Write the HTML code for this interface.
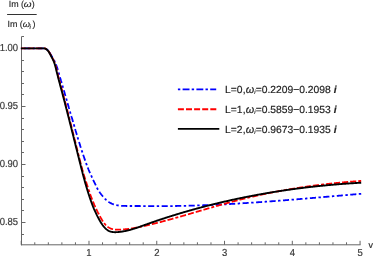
<!DOCTYPE html>
<html><head><meta charset="utf-8">
<style>
html,body{margin:0;padding:0;background:#fff;}
body{width:374px;height:256px;overflow:hidden;font-family:"Liberation Sans",sans-serif;}
svg{display:block;}
text{font-family:"Liberation Sans",sans-serif;text-rendering:geometricPrecision;}
svg{will-change:transform;}
.tl text{font-size:10.2px;fill:#383838;letter-spacing:-0.05px;stroke:#383838;stroke-width:0.2px;}
.lg text{font-size:10.3px;fill:#222;letter-spacing:0px;stroke:#222;stroke-width:0.18px;}
.lg .tt text{font-size:8.9px;stroke:#222;stroke-width:0.12px;}
.lg .tt text.sub{font-size:6.3px;}
.ax line{stroke:#666;stroke-width:1;}
</style></head><body>
<svg width="374" height="256" viewBox="0 0 374 256">
<rect width="374" height="256" fill="#fff"/>
<g class="ax">
<line x1="21.5" y1="36.6" x2="21.5" y2="245.3"/>
<line x1="21" y1="244.8" x2="360.55" y2="244.8"/>
<line x1="21.5" y1="234.50" x2="24.0" y2="234.50"/><line x1="21.5" y1="222.50" x2="25.5" y2="222.50"/><line x1="21.5" y1="210.50" x2="24.0" y2="210.50"/><line x1="21.5" y1="199.50" x2="24.0" y2="199.50"/><line x1="21.5" y1="187.50" x2="24.0" y2="187.50"/><line x1="21.5" y1="176.50" x2="24.0" y2="176.50"/><line x1="21.5" y1="164.50" x2="25.5" y2="164.50"/><line x1="21.5" y1="152.50" x2="24.0" y2="152.50"/><line x1="21.5" y1="141.50" x2="24.0" y2="141.50"/><line x1="21.5" y1="129.50" x2="24.0" y2="129.50"/><line x1="21.5" y1="118.50" x2="24.0" y2="118.50"/><line x1="21.5" y1="106.50" x2="25.5" y2="106.50"/><line x1="21.5" y1="94.50" x2="24.0" y2="94.50"/><line x1="21.5" y1="83.50" x2="24.0" y2="83.50"/><line x1="21.5" y1="71.50" x2="24.0" y2="71.50"/><line x1="21.5" y1="60.50" x2="24.0" y2="60.50"/><line x1="21.5" y1="48.50" x2="25.5" y2="48.50"/><line x1="21.5" y1="36.50" x2="24.0" y2="36.50"/><line x1="21.22" y1="244.8" x2="21.22" y2="240.8"/><line x1="34.77" y1="244.8" x2="34.77" y2="242.3"/><line x1="48.33" y1="244.8" x2="48.33" y2="242.3"/><line x1="61.88" y1="244.8" x2="61.88" y2="242.3"/><line x1="75.44" y1="244.8" x2="75.44" y2="242.3"/><line x1="88.99" y1="244.8" x2="88.99" y2="240.8"/><line x1="102.54" y1="244.8" x2="102.54" y2="242.3"/><line x1="116.10" y1="244.8" x2="116.10" y2="242.3"/><line x1="129.65" y1="244.8" x2="129.65" y2="242.3"/><line x1="143.21" y1="244.8" x2="143.21" y2="242.3"/><line x1="156.76" y1="244.8" x2="156.76" y2="240.8"/><line x1="170.31" y1="244.8" x2="170.31" y2="242.3"/><line x1="183.87" y1="244.8" x2="183.87" y2="242.3"/><line x1="197.42" y1="244.8" x2="197.42" y2="242.3"/><line x1="210.98" y1="244.8" x2="210.98" y2="242.3"/><line x1="224.53" y1="244.8" x2="224.53" y2="240.8"/><line x1="238.08" y1="244.8" x2="238.08" y2="242.3"/><line x1="251.64" y1="244.8" x2="251.64" y2="242.3"/><line x1="265.19" y1="244.8" x2="265.19" y2="242.3"/><line x1="278.75" y1="244.8" x2="278.75" y2="242.3"/><line x1="292.30" y1="244.8" x2="292.30" y2="240.8"/><line x1="305.85" y1="244.8" x2="305.85" y2="242.3"/><line x1="319.41" y1="244.8" x2="319.41" y2="242.3"/><line x1="332.96" y1="244.8" x2="332.96" y2="242.3"/><line x1="346.52" y1="244.8" x2="346.52" y2="242.3"/><line x1="360.07" y1="244.8" x2="360.07" y2="240.8"/>
</g>
<g class="tl"><text transform="translate(17.95,51.45) scale(0.93,1)" text-anchor="end">1.00</text><text transform="translate(17.95,109.45) scale(0.93,1)" text-anchor="end">0.95</text><text transform="translate(17.95,167.45) scale(0.93,1)" text-anchor="end">0.90</text><text transform="translate(17.95,225.45) scale(0.93,1)" text-anchor="end">0.85</text><text transform="translate(88.99,255.6) scale(0.93,1)" text-anchor="middle">1</text><text transform="translate(156.76,255.6) scale(0.93,1)" text-anchor="middle">2</text><text transform="translate(224.53,255.6) scale(0.93,1)" text-anchor="middle">3</text><text transform="translate(292.30,255.6) scale(0.93,1)" text-anchor="middle">4</text><text transform="translate(360.07,255.6) scale(0.93,1)" text-anchor="middle">5</text>
<text x="368.4" y="247.7" style="font-size:8.9px;fill:#222">v</text>
</g>
<g fill="none" stroke-width="1.8" stroke-linejoin="round">
<path d="M361.20,193.80 L360.71,193.84 L360.21,193.88 L359.72,193.92 L359.23,193.97 L358.74,194.01 L358.24,194.05 L357.75,194.09 L357.26,194.13 L356.77,194.18 L356.27,194.22 L355.78,194.26 L355.29,194.30 L354.80,194.34 L354.30,194.39 L353.81,194.43 L353.32,194.47 L352.83,194.51 L352.33,194.55 L351.84,194.60 L351.35,194.64 L350.85,194.68 L350.36,194.72 L349.87,194.77 L349.37,194.81 L348.88,194.85 L348.39,194.89 L347.90,194.94 L347.40,194.98 L346.91,195.02 L346.42,195.06 L345.92,195.11 L345.43,195.15 L344.94,195.19 L344.44,195.23 L343.95,195.28 L343.46,195.32 L342.96,195.36 L342.47,195.40 L341.97,195.45 L341.48,195.49 L340.99,195.53 L340.49,195.57 L340.00,195.62 L339.51,195.66 L339.01,195.70 L338.52,195.74 L338.03,195.79 L337.53,195.83 L337.04,195.87 L336.54,195.91 L336.05,195.96 L335.56,196.00 L335.06,196.04 L334.57,196.09 L334.07,196.13 L333.58,196.17 L333.09,196.21 L332.59,196.26 L332.10,196.30 L331.60,196.34 L331.11,196.38 L330.61,196.43 L330.12,196.47 L329.63,196.51 L329.13,196.55 L328.64,196.60 L328.14,196.64 L327.65,196.68 L327.15,196.73 L326.66,196.77 L326.17,196.81 L325.67,196.85 L325.18,196.90 L324.68,196.94 L324.19,196.98 L323.69,197.02 L323.20,197.07 L322.70,197.11 L322.21,197.15 L321.71,197.19 L321.22,197.24 L320.72,197.28 L320.23,197.32 L319.74,197.36 L319.24,197.40 L318.75,197.45 L318.25,197.49 L317.76,197.53 L317.26,197.57 L316.77,197.62 L316.27,197.66 L315.78,197.70 L315.28,197.74 L314.79,197.78 L314.29,197.83 L313.80,197.87 L313.30,197.91 L312.81,197.95 L312.31,198.00 L311.82,198.04 L311.32,198.08 L310.83,198.12 L310.33,198.16 L309.84,198.20 L309.34,198.25 L308.84,198.29 L308.35,198.33 L307.85,198.37 L307.36,198.41 L306.86,198.45 L306.37,198.50 L305.87,198.54 L305.38,198.58 L304.88,198.62 L304.39,198.66 L303.89,198.70 L303.40,198.74 L302.90,198.79 L302.40,198.83 L301.91,198.87 L301.41,198.91 L300.92,198.95 L300.42,198.99 L299.93,199.03 L299.43,199.07 L298.94,199.11 L298.44,199.16 L297.95,199.20 L297.45,199.24 L296.95,199.28 L296.46,199.32 L295.96,199.36 L295.47,199.40 L294.97,199.44 L294.48,199.48 L293.98,199.52 L293.48,199.56 L292.99,199.60 L292.49,199.64 L292.00,199.68 L291.50,199.72 L291.01,199.76 L290.51,199.80 L290.01,199.84 L289.52,199.88 L289.02,199.92 L288.53,199.96 L288.03,200.00 L287.53,200.04 L287.04,200.08 L286.54,200.12 L286.05,200.16 L285.55,200.20 L285.05,200.24 L284.56,200.28 L284.06,200.32 L283.57,200.35 L283.07,200.39 L282.58,200.43 L282.08,200.47 L281.58,200.51 L281.09,200.55 L280.59,200.59 L280.10,200.63 L279.60,200.66 L279.10,200.70 L278.61,200.74 L278.11,200.78 L277.61,200.82 L277.12,200.86 L276.62,200.89 L276.13,200.93 L275.63,200.97 L275.13,201.01 L274.64,201.04 L274.14,201.08 L273.65,201.12 L273.15,201.16 L272.65,201.19 L272.16,201.23 L271.66,201.27 L271.17,201.31 L270.67,201.34 L270.17,201.38 L269.68,201.42 L269.18,201.45 L268.69,201.49 L268.19,201.53 L267.69,201.56 L267.20,201.60 L266.70,201.64 L266.20,201.67 L265.71,201.71 L265.21,201.74 L264.72,201.78 L264.22,201.82 L263.72,201.85 L263.23,201.89 L262.73,201.92 L262.24,201.96 L261.74,201.99 L261.24,202.03 L260.75,202.06 L260.25,202.10 L259.75,202.13 L259.26,202.17 L258.76,202.20 L258.27,202.24 L257.77,202.27 L257.27,202.31 L256.78,202.34 L256.28,202.37 L255.79,202.41 L255.29,202.44 L254.79,202.48 L254.30,202.51 L253.80,202.54 L253.30,202.58 L252.81,202.61 L252.31,202.64 L251.82,202.68 L251.32,202.71 L250.82,202.74 L250.33,202.77 L249.83,202.81 L249.34,202.84 L248.84,202.87 L248.34,202.90 L247.85,202.94 L247.35,202.97 L246.86,203.00 L246.36,203.03 L245.86,203.06 L245.37,203.10 L244.87,203.13 L244.37,203.16 L243.88,203.19 L243.38,203.22 L242.89,203.25 L242.39,203.28 L241.89,203.31 L241.40,203.34 L240.90,203.37 L240.41,203.41 L239.91,203.44 L239.41,203.47 L238.92,203.50 L238.42,203.53 L237.93,203.55 L237.43,203.58 L236.93,203.61 L236.44,203.64 L235.94,203.67 L235.45,203.70 L234.95,203.73 L234.46,203.76 L233.96,203.79 L233.46,203.82 L232.97,203.84 L232.47,203.87 L231.98,203.90 L231.48,203.93 L230.98,203.96 L230.49,203.98 L229.99,204.01 L229.50,204.04 L229.00,204.07 L228.51,204.09 L228.01,204.12 L227.51,204.15 L227.02,204.17 L226.52,204.20 L226.03,204.23 L225.53,204.25 L225.04,204.28 L224.54,204.30 L224.04,204.33 L223.55,204.35 L223.05,204.38 L222.56,204.40 L222.06,204.43 L221.57,204.45 L221.07,204.48 L220.57,204.50 L220.08,204.53 L219.58,204.55 L219.09,204.58 L218.59,204.60 L218.10,204.62 L217.60,204.65 L217.11,204.67 L216.61,204.69 L216.12,204.72 L215.62,204.74 L215.12,204.76 L214.63,204.79 L214.13,204.81 L213.64,204.83 L213.14,204.85 L212.65,204.88 L212.15,204.90 L211.66,204.92 L211.16,204.94 L210.67,204.96 L210.17,204.98 L209.68,205.00 L209.18,205.02 L208.69,205.04 L208.19,205.07 L207.70,205.09 L207.20,205.11 L206.71,205.13 L206.21,205.15 L205.72,205.16 L205.22,205.18 L204.73,205.20 L204.23,205.22 L203.74,205.24 L203.24,205.26 L202.75,205.28 L202.25,205.30 L201.76,205.31 L201.26,205.33 L200.77,205.35 L200.27,205.37 L199.78,205.39 L199.28,205.40 L198.79,205.42 L198.29,205.44 L197.80,205.45 L197.31,205.47 L196.81,205.49 L196.32,205.50 L195.82,205.52 L195.33,205.53 L194.83,205.55 L194.34,205.56 L193.84,205.58 L193.35,205.59 L192.85,205.61 L192.36,205.62 L191.87,205.64 L191.37,205.65 L190.88,205.67 L190.38,205.68 L189.89,205.69 L189.40,205.71 L188.90,205.72 L188.41,205.73 L187.91,205.74 L187.42,205.76 L186.92,205.77 L186.43,205.78 L185.94,205.79 L185.44,205.81 L184.95,205.82 L184.45,205.83 L183.96,205.84 L183.47,205.85 L182.97,205.86 L182.48,205.87 L181.99,205.88 L181.49,205.89 L181.00,205.90 L180.50,205.91 L180.01,205.92 L179.52,205.93 L179.02,205.94 L178.53,205.95 L178.04,205.96 L177.54,205.96 L177.05,205.97 L176.56,205.98 L176.06,205.99 L175.57,205.99 L175.08,206.00 L174.58,206.01 L174.09,206.02 L173.60,206.02 L173.10,206.03 L172.61,206.03 L172.12,206.04 L171.62,206.05 L171.13,206.05 L170.64,206.06 L170.15,206.06 L169.65,206.07 L169.16,206.07 L168.67,206.08 L168.17,206.08 L167.68,206.08 L167.19,206.09 L166.70,206.09 L166.20,206.09 L165.71,206.10 L165.22,206.10 L164.72,206.10 L164.23,206.10 L163.74,206.11 L163.25,206.11 L162.75,206.11 L162.26,206.11 L161.77,206.11 L161.28,206.11 L160.79,206.11 L160.29,206.11 L159.80,206.11 L159.31,206.11 L158.82,206.11 L158.32,206.11 L157.83,206.11 L157.34,206.11 L156.85,206.11 L156.35,206.11 L155.86,206.11 L155.37,206.11 L154.87,206.10 L154.38,206.10 L153.89,206.10 L153.40,206.10 L152.90,206.10 L152.41,206.09 L151.91,206.09 L151.42,206.09 L150.92,206.09 L150.43,206.08 L149.94,206.08 L149.44,206.08 L148.94,206.08 L148.45,206.07 L147.95,206.07 L147.46,206.07 L146.96,206.06 L146.46,206.06 L145.97,206.06 L145.47,206.05 L144.97,206.05 L144.47,206.05 L143.97,206.05 L143.47,206.04 L142.97,206.04 L142.47,206.04 L141.97,206.03 L141.47,206.03 L140.97,206.03 L140.47,206.03 L139.97,206.02 L139.47,206.02 L138.96,206.02 L138.46,206.02 L137.95,206.01 L137.45,206.01 L136.94,206.01 L136.44,206.01 L135.93,206.00 L135.42,206.00 L134.92,206.00 L134.41,206.00 L133.90,206.00 L133.39,206.00 L132.88,206.00 L132.37,205.99 L131.86,205.99 L131.35,205.99 L130.83,205.99 L130.32,205.99 L129.81,205.99 L129.29,205.99 L128.77,205.99 L128.26,205.99 L127.74,205.99 L127.23,205.99 L126.71,205.99 L126.20,205.98 L125.68,205.97 L125.17,205.96 L124.65,205.95 L124.14,205.94 L123.63,205.92 L123.12,205.90 L122.61,205.87 L122.10,205.84 L121.59,205.81 L121.09,205.77 L120.59,205.73 L120.09,205.68 L119.59,205.63 L119.09,205.57 L118.60,205.50 L118.11,205.43 L117.63,205.35 L117.14,205.27 L116.66,205.17 L116.18,205.07 L115.71,204.96 L115.24,204.85 L114.78,204.72 L114.32,204.59 L113.86,204.45 L113.41,204.29 L112.96,204.13 L112.51,203.96 L112.07,203.78 L111.64,203.59 L111.21,203.38 L110.79,203.17 L110.37,202.95 L109.96,202.71 L109.55,202.46 L109.15,202.21 L108.75,201.94 L108.36,201.66 L107.98,201.38 L107.59,201.08 L107.22,200.78 L106.85,200.47 L106.48,200.15 L106.11,199.82 L105.76,199.49 L105.40,199.15 L105.05,198.81 L104.71,198.45 L104.37,198.10 L104.03,197.73 L103.70,197.36 L102.96,196.52 L102.53,196.02 L102.11,195.52 L101.70,195.03 L101.29,194.53 L100.90,194.03 L100.52,193.53 L100.15,193.03 L99.79,192.53 L99.45,192.02 L99.11,191.52 L98.79,191.02 L98.48,190.52 L98.19,190.01 L97.90,189.51 L97.62,189.00 L97.35,188.50 L97.09,187.99 L96.83,187.48 L96.58,186.98 L96.34,186.47 L96.09,185.96 L95.85,185.45 L95.61,184.94 L95.36,184.43 L95.12,183.92 L94.87,183.41 L94.62,182.90 L94.37,182.39 L94.12,181.88 L93.88,181.37 L93.63,180.85 L93.38,180.34 L93.14,179.83 L92.89,179.31 L92.65,178.80 L92.41,178.29 L92.17,177.77 L91.93,177.26 L91.69,176.74 L91.46,176.23 L91.23,175.71 L91.00,175.20 L90.77,174.68 L90.54,174.16 L90.31,173.65 L90.09,173.13 L89.86,172.61 L89.64,172.10 L89.41,171.58 L89.19,171.06 L88.97,170.54 L88.75,170.03 L88.54,169.51 L88.32,168.99 L88.11,168.47 L87.90,167.95 L87.69,167.43 L87.49,166.92 L87.29,166.40 L87.09,165.88 L86.89,165.36 L86.70,164.84 L86.51,164.32 L86.32,163.80 L86.13,163.28 L85.95,162.76 L85.76,162.25 L85.58,161.73 L85.40,161.21 L85.22,160.69 L85.03,160.17 L84.85,159.65 L84.67,159.13 L84.49,158.61 L84.31,158.10 L84.13,157.58 L83.95,157.06 L83.77,156.54 L83.59,156.02 L83.42,155.50 L83.24,154.99 L83.06,154.47 L82.89,153.95 L82.71,153.43 L82.54,152.91 L82.36,152.39 L82.19,151.88 L82.02,151.36 L81.85,150.84 L81.68,150.32 L81.51,149.81 L81.34,149.29 L81.18,148.77 L81.01,148.25 L80.84,147.73 L80.68,147.22 L80.51,146.70 L80.35,146.18 L80.19,145.66 L80.02,145.15 L79.86,144.63 L79.70,144.11 L79.54,143.60 L79.38,143.08 L79.22,142.56 L79.06,142.04 L78.90,141.53 L78.74,141.01 L78.58,140.49 L78.42,139.98 L78.26,139.46 L78.10,138.94 L77.95,138.43 L77.79,137.91 L77.63,137.39 L77.48,136.88 L77.32,136.36 L77.17,135.84 L77.01,135.33 L76.86,134.81 L76.70,134.30 L76.55,133.78 L76.39,133.26 L76.24,132.75 L76.09,132.23 L75.93,131.71 L75.78,131.20 L75.63,130.68 L75.47,130.17 L75.32,129.65 L75.17,129.13 L75.02,128.62 L74.87,128.10 L74.72,127.59 L74.57,127.07 L74.42,126.56 L74.27,126.04 L74.12,125.52 L73.97,125.01 L73.82,124.49 L73.67,123.98 L73.52,123.46 L73.37,122.95 L73.22,122.43 L73.07,121.92 L72.92,121.40 L72.77,120.89 L72.61,120.37 L72.46,119.86 L72.30,119.34 L72.15,118.83 L71.99,118.31 L71.83,117.80 L71.67,117.28 L71.51,116.77 L71.36,116.25 L71.20,115.74 L71.05,115.22 L70.89,114.71 L70.74,114.19 L70.59,113.68 L70.45,113.16 L70.30,112.65 L70.15,112.13 L70.00,111.62 L69.85,111.10 L69.71,110.59 L69.56,110.07 L69.41,109.56 L69.27,109.05 L69.12,108.53 L68.97,108.02 L68.83,107.50 L68.68,106.99 L68.53,106.47 L68.39,105.96 L68.24,105.45 L68.09,104.93 L67.94,104.42 L67.79,103.90 L67.64,103.39 L67.49,102.87 L67.34,102.36 L67.19,101.85 L67.04,101.33 L66.89,100.82 L66.74,100.31 L66.59,99.79 L66.44,99.28 L66.29,98.76 L66.14,98.25 L65.99,97.74 L65.84,97.22 L65.69,96.71 L65.54,96.20 L65.39,95.68 L65.24,95.17 L65.09,94.65 L64.94,94.14 L64.79,93.63 L64.64,93.11 L64.49,92.60 L64.34,92.09 L64.19,91.57 L64.04,91.06 L63.89,90.55 L63.74,90.03 L63.59,89.52 L63.44,89.01 L63.29,88.49 L63.14,87.98 L62.99,87.47 L62.84,86.95 L62.69,86.44 L62.54,85.93 L62.39,85.41 L62.23,84.90 L62.08,84.38 L61.93,83.87 L61.78,83.36 L61.63,82.84 L61.48,82.33 L61.33,81.81 L61.18,81.30 L61.03,80.78 L60.87,80.27 L60.72,79.75 L60.57,79.24 L60.42,78.72 L60.27,78.20 L60.12,77.69 L59.97,77.17 L59.82,76.66 L59.67,76.14 L59.51,75.62 L59.36,75.10 L59.21,74.59 L59.06,74.07 L58.91,73.55 L58.76,73.03 L58.61,72.51 L58.45,71.99 L58.30,71.47 L58.15,70.96 L57.99,70.44 L57.84,69.91 L57.68,69.39 L57.52,68.87 L57.35,68.35 L57.18,67.83 L57.01,67.31 L56.83,66.79 L56.64,66.28 L56.45,65.76 L56.26,65.25 L56.06,64.74 L55.85,64.23 L55.64,63.72 L55.43,63.22 L55.21,62.72 L54.99,62.22 L54.76,61.73 L54.52,61.24 L54.28,60.75 L54.02,60.27 L53.77,59.79 L53.50,59.31 L53.24,58.83 L52.97,58.36 L52.69,57.89 L52.42,57.41 L52.14,56.94 L51.86,56.47 L51.58,56.00 L51.31,55.53 L51.03,55.06 L50.76,54.59 L50.49,54.11 L50.22,53.64 L49.94,53.17 L49.66,52.71 L49.36,52.25 L49.06,51.80 L48.74,51.36 L48.40,50.94 L48.04,50.52 L47.66,50.13 L47.26,49.76 L46.84,49.41 L46.40,49.11 L45.94,48.84 L45.46,48.63 L44.97,48.46 L44.45,48.36 L43.92,48.35 L43.38,48.35 L42.84,48.35 L42.29,48.35 L41.75,48.35 L41.21,48.35 L40.68,48.35 L40.15,48.36 L39.62,48.36 L39.09,48.36 L38.56,48.36 L38.03,48.36 L37.50,48.36 L36.97,48.36 L36.44,48.36 L35.91,48.36 L35.38,48.36 L34.85,48.36 L34.32,48.36 L33.78,48.35 L33.25,48.35 L32.72,48.35 L32.18,48.35 L31.65,48.35 L31.12,48.35 L30.58,48.35 L30.05,48.35 L29.51,48.35 L28.98,48.35 L28.45,48.35 L27.91,48.35 L27.38,48.35 L26.85,48.35 L26.31,48.35 L25.78,48.35 L25.25,48.35 L24.71,48.35 L24.18,48.35 L23.65,48.35 L23.12,48.35 L22.59,48.35 L22.06,48.35 L21.53,48.35 L21.00,48.35" stroke="#0000ff" stroke-dasharray="2.4 2.5 6.1 2.5"/>
<path d="M361.20,180.90 L360.67,180.94 L360.14,180.98 L359.62,181.01 L359.09,181.05 L358.56,181.09 L358.03,181.13 L357.51,181.17 L356.98,181.21 L356.45,181.25 L355.92,181.29 L355.40,181.33 L354.87,181.37 L354.34,181.41 L353.81,181.45 L353.29,181.49 L352.76,181.53 L352.23,181.57 L351.70,181.62 L351.18,181.66 L350.65,181.70 L350.12,181.75 L349.59,181.79 L349.07,181.84 L348.54,181.88 L348.01,181.92 L347.49,181.97 L346.96,182.02 L346.43,182.06 L345.91,182.11 L345.38,182.16 L344.85,182.20 L344.33,182.25 L343.80,182.30 L343.27,182.35 L342.75,182.39 L342.22,182.44 L341.69,182.49 L341.17,182.54 L340.64,182.59 L340.12,182.64 L339.59,182.69 L339.06,182.74 L338.54,182.80 L338.01,182.85 L337.48,182.90 L336.96,182.95 L336.43,183.00 L335.91,183.06 L335.38,183.11 L334.86,183.17 L334.33,183.22 L333.80,183.27 L333.28,183.33 L332.75,183.38 L332.23,183.44 L331.70,183.50 L331.18,183.55 L330.65,183.61 L330.13,183.67 L329.60,183.72 L329.08,183.78 L328.55,183.84 L328.03,183.90 L327.50,183.96 L326.98,184.02 L326.45,184.08 L325.93,184.14 L325.40,184.20 L324.88,184.26 L324.35,184.32 L323.83,184.38 L323.30,184.44 L322.78,184.51 L322.25,184.57 L321.73,184.63 L321.20,184.70 L320.68,184.76 L320.16,184.82 L319.63,184.89 L319.11,184.95 L318.58,185.02 L318.06,185.09 L317.54,185.15 L317.01,185.22 L316.49,185.28 L315.96,185.35 L315.44,185.42 L314.92,185.49 L314.39,185.56 L313.87,185.63 L313.35,185.69 L312.82,185.76 L312.30,185.83 L311.78,185.90 L311.25,185.98 L310.73,186.05 L310.21,186.12 L309.68,186.19 L309.16,186.26 L308.64,186.34 L308.12,186.41 L307.59,186.48 L307.07,186.56 L306.55,186.63 L306.03,186.71 L305.50,186.78 L304.98,186.86 L304.46,186.93 L303.94,187.01 L303.41,187.08 L302.89,187.16 L302.37,187.24 L301.85,187.32 L301.33,187.40 L300.80,187.47 L300.28,187.55 L299.76,187.63 L299.24,187.71 L298.72,187.79 L298.20,187.87 L297.67,187.96 L297.15,188.04 L296.63,188.12 L296.11,188.20 L295.59,188.28 L295.07,188.37 L294.55,188.45 L294.03,188.53 L293.50,188.62 L292.98,188.70 L292.46,188.79 L291.94,188.87 L291.42,188.96 L290.90,189.05 L290.38,189.13 L289.86,189.22 L289.34,189.31 L288.82,189.40 L288.30,189.48 L287.78,189.57 L287.26,189.66 L286.74,189.75 L286.22,189.84 L285.70,189.93 L285.18,190.02 L284.66,190.12 L284.14,190.21 L283.62,190.30 L283.10,190.39 L282.58,190.48 L282.06,190.58 L281.54,190.67 L281.03,190.77 L280.51,190.86 L279.99,190.96 L279.47,191.05 L278.95,191.15 L278.43,191.24 L277.91,191.34 L277.39,191.44 L276.87,191.54 L276.36,191.63 L275.84,191.73 L275.32,191.83 L274.80,191.93 L274.28,192.03 L273.77,192.13 L273.25,192.23 L272.73,192.33 L272.21,192.43 L271.69,192.54 L271.18,192.64 L270.66,192.74 L270.14,192.84 L269.62,192.95 L269.11,193.05 L268.59,193.16 L268.07,193.26 L267.56,193.37 L267.04,193.47 L266.52,193.58 L266.01,193.69 L265.49,193.79 L264.97,193.90 L264.46,194.01 L263.94,194.12 L263.42,194.23 L262.91,194.34 L262.39,194.45 L261.87,194.56 L261.36,194.67 L260.84,194.78 L260.33,194.89 L259.81,195.00 L259.30,195.11 L258.78,195.23 L258.26,195.34 L257.75,195.45 L257.23,195.57 L256.72,195.68 L256.20,195.80 L255.69,195.91 L255.17,196.03 L254.66,196.15 L254.14,196.26 L253.63,196.38 L253.11,196.50 L252.60,196.62 L252.09,196.74 L251.57,196.85 L251.06,196.97 L250.54,197.09 L250.03,197.22 L249.52,197.34 L249.00,197.46 L248.49,197.58 L247.97,197.70 L247.46,197.82 L246.95,197.95 L246.43,198.07 L245.92,198.20 L245.41,198.32 L244.89,198.45 L244.38,198.57 L243.87,198.70 L243.36,198.82 L242.84,198.95 L242.33,199.08 L241.82,199.21 L241.31,199.33 L240.79,199.46 L240.28,199.59 L239.77,199.72 L239.26,199.85 L238.75,199.98 L238.23,200.11 L237.72,200.25 L237.21,200.38 L236.70,200.51 L236.19,200.64 L235.68,200.78 L235.16,200.91 L234.65,201.05 L234.14,201.18 L233.63,201.31 L233.12,201.45 L232.61,201.59 L232.10,201.72 L231.59,201.86 L231.08,202.00 L230.57,202.13 L230.06,202.27 L229.55,202.41 L229.04,202.55 L228.53,202.69 L228.02,202.82 L227.51,202.96 L227.00,203.10 L226.49,203.24 L225.98,203.38 L225.47,203.52 L224.96,203.66 L224.45,203.81 L223.94,203.95 L223.43,204.09 L222.92,204.23 L222.41,204.37 L221.90,204.52 L221.39,204.66 L220.88,204.80 L220.37,204.95 L219.86,205.09 L219.35,205.23 L218.85,205.38 L218.34,205.52 L217.83,205.67 L217.32,205.81 L216.81,205.96 L216.30,206.10 L215.79,206.25 L215.28,206.39 L214.78,206.54 L214.27,206.68 L213.76,206.83 L213.25,206.98 L212.74,207.12 L212.23,207.27 L211.73,207.42 L211.22,207.56 L210.71,207.71 L210.20,207.86 L209.69,208.01 L209.19,208.15 L208.68,208.30 L208.17,208.45 L207.66,208.60 L207.15,208.74 L206.65,208.89 L206.14,209.04 L205.63,209.19 L205.12,209.34 L204.61,209.49 L204.11,209.63 L203.60,209.78 L203.09,209.93 L202.58,210.08 L202.08,210.23 L201.57,210.38 L201.06,210.53 L200.55,210.67 L200.05,210.82 L199.54,210.97 L199.03,211.12 L198.52,211.27 L198.02,211.42 L197.51,211.57 L197.00,211.72 L196.49,211.86 L195.99,212.01 L195.48,212.16 L194.97,212.31 L194.46,212.46 L193.96,212.61 L193.45,212.76 L192.94,212.91 L192.43,213.05 L191.93,213.20 L191.42,213.35 L190.91,213.50 L190.41,213.65 L189.90,213.79 L189.39,213.94 L188.88,214.09 L188.38,214.24 L187.87,214.39 L187.36,214.53 L186.85,214.68 L186.35,214.83 L185.84,214.98 L185.33,215.12 L184.82,215.27 L184.32,215.42 L183.81,215.56 L183.30,215.71 L182.79,215.86 L182.29,216.00 L181.78,216.15 L181.27,216.29 L180.76,216.44 L180.26,216.58 L179.75,216.73 L179.24,216.87 L178.73,217.02 L178.23,217.16 L177.72,217.31 L177.21,217.45 L176.70,217.59 L176.20,217.74 L175.69,217.88 L175.18,218.02 L174.67,218.17 L174.17,218.31 L173.66,218.45 L173.15,218.59 L172.64,218.73 L172.13,218.88 L171.63,219.02 L171.12,219.16 L170.61,219.30 L170.10,219.44 L169.59,219.58 L169.08,219.72 L168.58,219.86 L168.07,219.99 L167.56,220.13 L167.05,220.27 L166.54,220.41 L166.03,220.55 L165.53,220.68 L165.02,220.82 L164.51,220.96 L164.00,221.09 L163.49,221.23 L162.98,221.36 L162.47,221.50 L161.96,221.63 L161.46,221.76 L160.95,221.90 L160.44,222.03 L159.93,222.16 L159.42,222.30 L158.91,222.43 L158.40,222.56 L157.89,222.69 L157.38,222.82 L156.87,222.95 L156.36,223.08 L155.85,223.21 L155.34,223.34 L154.83,223.46 L154.32,223.59 L153.81,223.72 L153.30,223.84 L152.79,223.97 L152.28,224.10 L151.77,224.22 L151.26,224.35 L150.75,224.47 L150.24,224.59 L149.73,224.72 L149.22,224.84 L148.71,224.96 L148.20,225.08 L147.69,225.20 L147.18,225.32 L146.67,225.44 L146.16,225.56 L145.64,225.68 L145.13,225.79 L144.62,225.91 L144.11,226.03 L143.60,226.14 L143.09,226.26 L142.57,226.37 L142.06,226.48 L141.55,226.60 L141.03,226.71 L140.52,226.82 L140.01,226.92 L139.49,227.03 L138.98,227.14 L138.46,227.24 L137.95,227.34 L137.43,227.45 L136.91,227.55 L136.39,227.65 L135.88,227.74 L135.36,227.84 L134.84,227.93 L134.32,228.02 L133.79,228.11 L133.27,228.20 L132.75,228.29 L132.23,228.37 L131.70,228.46 L131.18,228.54 L130.65,228.62 L130.12,228.69 L129.59,228.77 L129.06,228.84 L128.53,228.91 L128.00,228.98 L127.47,229.04 L126.93,229.10 L126.40,229.16 L125.86,229.22 L125.32,229.27 L124.78,229.33 L124.24,229.37 L123.70,229.42 L123.16,229.46 L122.61,229.51 L122.07,229.54 L121.52,229.58 L120.97,229.61 L120.42,229.64 L119.87,229.66 L119.32,229.67 L118.78,229.68 L118.23,229.69 L117.69,229.68 L117.14,229.67 L116.61,229.65 L116.07,229.62 L115.54,229.58 L115.02,229.52 L114.50,229.46 L113.98,229.38 L113.47,229.29 L112.97,229.19 L112.48,229.07 L111.99,228.94 L111.52,228.79 L111.05,228.63 L110.59,228.44 L110.14,228.24 L109.70,228.03 L109.27,227.79 L108.85,227.54 L108.44,227.27 L108.04,226.99 L107.65,226.70 L107.26,226.39 L106.89,226.06 L106.52,225.73 L106.16,225.38 L105.80,225.02 L105.45,224.65 L105.11,224.26 L104.78,223.87 L104.45,223.47 L104.13,223.06 L103.82,222.64 L103.51,222.21 L103.20,221.77 L102.91,221.33 L102.61,220.88 L102.32,220.43 L102.04,219.97 L101.75,219.51 L101.48,219.04 L101.20,218.57 L100.93,218.10 L100.66,217.62 L100.40,217.14 L100.14,216.66 L99.88,216.18 L99.62,215.70 L99.36,215.22 L99.11,214.74 L98.86,214.26 L98.61,213.77 L98.36,213.29 L98.12,212.81 L97.87,212.33 L97.63,211.84 L97.39,211.36 L97.16,210.87 L96.92,210.39 L96.69,209.90 L96.45,209.42 L96.22,208.93 L96.00,208.45 L95.77,207.96 L95.55,207.47 L95.32,206.99 L95.10,206.50 L94.88,206.01 L94.67,205.52 L94.45,205.04 L94.24,204.55 L94.03,204.06 L93.82,203.57 L93.61,203.08 L93.40,202.59 L93.20,202.10 L92.99,201.61 L92.79,201.12 L92.59,200.63 L92.39,200.13 L92.19,199.64 L92.00,199.15 L91.80,198.66 L91.61,198.17 L91.42,197.67 L91.23,197.18 L90.98,196.52 L90.79,196.02 L90.61,195.52 L90.44,195.03 L90.26,194.53 L90.09,194.03 L89.92,193.53 L89.76,193.03 L89.59,192.53 L89.42,192.02 L89.26,191.52 L89.09,191.02 L88.93,190.52 L88.76,190.01 L88.59,189.51 L88.43,189.00 L88.26,188.50 L88.09,187.99 L87.93,187.48 L87.76,186.98 L87.59,186.47 L87.42,185.96 L87.25,185.45 L87.08,184.94 L86.91,184.43 L86.74,183.92 L86.57,183.41 L86.40,182.90 L86.23,182.39 L86.06,181.88 L85.89,181.37 L85.73,180.85 L85.56,180.34 L85.40,179.83 L85.23,179.31 L85.07,178.80 L84.91,178.29 L84.75,177.77 L84.59,177.26 L84.43,176.74 L84.28,176.23 L84.12,175.71 L83.97,175.20 L83.82,174.68 L83.67,174.16 L83.51,173.65 L83.37,173.13 L83.22,172.61 L83.07,172.10 L82.92,171.58 L82.77,171.06 L82.63,170.54 L82.48,170.03 L82.34,169.51 L82.19,168.99 L82.05,168.47 L81.91,167.95 L81.77,167.43 L81.63,166.92 L81.49,166.40 L81.35,165.88 L81.22,165.36 L81.08,164.84 L80.94,164.32 L80.81,163.80 L80.67,163.28 L80.54,162.76 L80.40,162.25 L80.27,161.73 L80.14,161.21 L80.00,160.69 L79.87,160.17 L79.74,159.65 L79.60,159.13 L79.47,158.61 L79.33,158.10 L79.20,157.58 L79.07,157.06 L78.93,156.54 L78.80,156.02 L78.67,155.50 L78.54,154.99 L78.40,154.47 L78.27,153.95 L78.14,153.43 L78.01,152.91 L77.88,152.39 L77.75,151.88 L77.61,151.36 L77.48,150.84 L77.35,150.32 L77.23,149.81 L77.10,149.29 L76.97,148.77 L76.84,148.25 L76.71,147.73 L76.58,147.22 L76.45,146.70 L76.32,146.18 L76.19,145.66 L76.06,145.15 L75.93,144.63 L75.80,144.11 L75.68,143.60 L75.55,143.08 L75.42,142.56 L75.29,142.04 L75.16,141.53 L75.03,141.01 L74.90,140.49 L74.77,139.98 L74.64,139.46 L74.51,138.94 L74.38,138.43 L74.26,137.91 L74.13,137.39 L74.00,136.88 L73.87,136.36 L73.74,135.84 L73.61,135.33 L73.48,134.81 L73.35,134.30 L73.22,133.78 L73.09,133.26 L72.96,132.75 L72.83,132.23 L72.70,131.71 L72.57,131.20 L72.45,130.68 L72.32,130.17 L72.19,129.65 L72.06,129.13 L71.93,128.62 L71.80,128.10 L71.67,127.59 L71.54,127.07 L71.41,126.56 L71.28,126.04 L71.15,125.52 L71.02,125.01 L70.89,124.49 L70.76,123.98 L70.63,123.46 L70.50,122.95 L70.37,122.43 L70.24,121.92 L70.11,121.40 L69.98,120.89 L69.85,120.37 L69.72,119.86 L69.58,119.34 L69.45,118.83 L69.32,118.31 L69.19,117.80 L69.06,117.28 L68.93,116.77 L68.80,116.25 L68.67,115.74 L68.54,115.22 L68.41,114.71 L68.27,114.19 L68.14,113.68 L68.01,113.16 L67.88,112.65 L67.75,112.13 L67.62,111.62 L67.48,111.10 L67.35,110.59 L67.22,110.07 L67.09,109.56 L66.95,109.05 L66.82,108.53 L66.69,108.02 L66.56,107.50 L66.42,106.99 L66.29,106.47 L66.16,105.96 L66.02,105.45 L65.89,104.93 L65.76,104.42 L65.62,103.90 L65.49,103.39 L65.36,102.87 L65.22,102.36 L65.09,101.85 L64.95,101.33 L64.82,100.82 L64.69,100.31 L64.55,99.79 L64.42,99.28 L64.28,98.76 L64.15,98.25 L64.01,97.74 L63.88,97.22 L63.74,96.71 L63.61,96.20 L63.47,95.68 L63.33,95.17 L63.20,94.65 L63.06,94.14 L62.92,93.63 L62.79,93.11 L62.65,92.60 L62.51,92.09 L62.37,91.57 L62.23,91.06 L62.09,90.55 L61.95,90.03 L61.81,89.52 L61.67,89.01 L61.53,88.49 L61.39,87.98 L61.25,87.47 L61.11,86.95 L60.97,86.44 L60.83,85.93 L60.69,85.41 L60.56,84.90 L60.42,84.38 L60.28,83.87 L60.14,83.36 L60.00,82.84 L59.86,82.33 L59.72,81.81 L59.59,81.30 L59.45,80.78 L59.32,80.27 L59.18,79.75 L59.05,79.24 L58.91,78.72 L58.78,78.20 L58.64,77.69 L58.51,77.17 L58.38,76.66 L58.24,76.14 L58.11,75.62 L57.98,75.10 L57.85,74.59 L57.72,74.07 L57.59,73.55 L57.46,73.03 L57.33,72.51 L57.20,71.99 L57.07,71.47 L56.95,70.96 L56.82,70.44 L56.70,69.91 L56.57,69.39 L56.44,68.87 L56.31,68.35 L56.18,67.83 L56.04,67.31 L55.90,66.79 L55.76,66.28 L55.62,65.76 L55.46,65.25 L55.31,64.74 L55.14,64.23 L54.97,63.72 L54.80,63.22 L54.62,62.72 L54.42,62.22 L54.22,61.73 L54.02,61.24 L53.80,60.75 L53.58,60.27 L53.35,59.79 L53.11,59.31 L52.87,58.83 L52.62,58.36 L52.37,57.89 L52.12,57.41 L51.86,56.94 L51.61,56.47 L51.35,56.00 L51.09,55.53 L50.83,55.06 L50.58,54.59 L50.32,54.11 L50.06,53.64 L49.80,53.17 L49.53,52.71 L49.24,52.25 L48.95,51.80 L48.64,51.36 L48.31,50.94 L47.96,50.52 L47.59,50.13 L47.19,49.76 L46.78,49.41 L46.34,49.11 L45.89,48.84 L45.41,48.63 L44.91,48.46 L44.40,48.36 L43.87,48.35 L43.33,48.35 L42.79,48.35 L42.24,48.35 L41.70,48.35 L41.16,48.35 L40.63,48.35 L40.10,48.36 L39.57,48.36 L39.04,48.36 L38.51,48.36 L37.98,48.36 L37.45,48.36 L36.92,48.36 L36.39,48.36 L35.86,48.36 L35.33,48.36 L34.80,48.36 L34.27,48.36 L33.73,48.35 L33.20,48.35 L32.67,48.35 L32.13,48.35 L31.60,48.35 L31.07,48.35 L30.53,48.35 L30.00,48.35 L29.46,48.35 L28.93,48.35 L28.40,48.35 L27.86,48.35 L27.33,48.35 L26.80,48.35 L26.26,48.35 L25.73,48.35 L25.20,48.35 L24.66,48.35 L24.13,48.35 L23.60,48.35 L23.07,48.35 L22.54,48.35 L22.01,48.35 L21.48,48.35 L20.95,48.35" stroke="#ff0000" stroke-dasharray="3 2 6.1 2 6.1 2 6.1 2 6.1 2" />
<path d="M20.80,48.35 L21.33,48.35 L21.86,48.35 L22.39,48.35 L22.92,48.35 L23.45,48.35 L23.98,48.35 L24.51,48.35 L25.05,48.35 L25.58,48.35 L26.11,48.35 L26.65,48.35 L27.18,48.35 L27.71,48.35 L28.25,48.35 L28.78,48.35 L29.31,48.35 L29.85,48.35 L30.38,48.35 L30.92,48.35 L31.45,48.35 L31.98,48.35 L32.52,48.35 L33.05,48.35 L33.58,48.35 L34.12,48.36 L34.65,48.36 L35.18,48.36 L35.71,48.36 L36.24,48.36 L36.77,48.36 L37.30,48.36 L37.83,48.36 L38.36,48.36 L38.89,48.36 L39.42,48.36 L39.95,48.36 L40.48,48.35 L41.01,48.35 L41.55,48.35 L42.09,48.35 L42.64,48.35 L43.18,48.35 L43.72,48.35 L44.25,48.36 L44.76,48.46 L45.26,48.63 L45.73,48.84 L46.18,49.11 L46.61,49.41 L47.02,49.76 L47.41,50.13 L47.78,50.52 L48.12,50.94 L48.44,51.36 L48.75,51.80 L49.03,52.25 L49.31,52.71 L49.57,53.17 L49.83,53.64 L50.08,54.11 L50.33,54.59 L50.58,55.06 L50.83,55.53 L51.08,56.00 L51.33,56.47 L51.58,56.94 L51.83,57.41 L52.08,57.89 L52.32,58.36 L52.56,58.83 L52.80,59.31 L53.03,59.79 L53.25,60.27 L53.47,60.75 L53.68,61.24 L53.88,61.73 L54.07,62.22 L54.25,62.72 L54.43,63.22 L54.60,63.72 L54.76,64.23 L54.91,64.74 L55.06,65.25 L55.21,65.76 L55.34,66.28 L55.48,66.79 L55.61,67.31 L55.74,67.83 L55.87,68.35 L55.99,68.87 L56.12,69.39 L56.25,69.91 L56.37,70.44 L56.50,70.96 L56.62,71.47 L56.75,71.99 L56.88,72.51 L57.01,73.03 L57.14,73.55 L57.27,74.07 L57.40,74.59 L57.53,75.10 L57.66,75.62 L57.79,76.14 L57.93,76.66 L58.06,77.17 L58.19,77.69 L58.33,78.20 L58.46,78.72 L58.60,79.24 L58.73,79.75 L58.87,80.27 L59.00,80.78 L59.14,81.30 L59.27,81.81 L59.41,82.33 L59.55,82.84 L59.68,83.36 L59.82,83.87 L59.96,84.38 L60.09,84.90 L60.23,85.41 L60.37,85.93 L60.50,86.44 L60.64,86.95 L60.78,87.47 L60.92,87.98 L61.05,88.49 L61.19,89.01 L61.33,89.52 L61.47,90.03 L61.60,90.55 L61.74,91.06 L61.88,91.57 L62.02,92.09 L62.15,92.60 L62.29,93.11 L62.43,93.63 L62.56,94.14 L62.70,94.65 L62.83,95.17 L62.97,95.68 L63.11,96.20 L63.24,96.71 L63.38,97.22 L63.51,97.74 L63.65,98.25 L63.78,98.76 L63.92,99.28 L64.05,99.79 L64.19,100.31 L64.32,100.82 L64.45,101.33 L64.59,101.85 L64.72,102.36 L64.86,102.87 L64.99,103.39 L65.12,103.90 L65.26,104.42 L65.39,104.93 L65.52,105.45 L65.66,105.96 L65.79,106.47 L65.92,106.99 L66.06,107.50 L66.19,108.02 L66.32,108.53 L66.45,109.05 L66.59,109.56 L66.72,110.07 L66.85,110.59 L66.98,111.10 L67.12,111.62 L67.25,112.13 L67.38,112.65 L67.51,113.16 L67.64,113.68 L67.77,114.19 L67.91,114.71 L68.04,115.22 L68.17,115.74 L68.30,116.25 L68.43,116.77 L68.56,117.28 L68.69,117.80 L68.82,118.31 L68.95,118.83 L69.08,119.34 L69.22,119.86 L69.35,120.37 L69.48,120.89 L69.61,121.40 L69.74,121.92 L69.87,122.43 L70.00,122.95 L70.13,123.46 L70.26,123.98 L70.39,124.49 L70.52,125.01 L70.65,125.52 L70.78,126.04 L70.91,126.56 L71.04,127.07 L71.17,127.59 L71.30,128.10 L71.43,128.62 L71.56,129.13 L71.69,129.65 L71.82,130.17 L71.95,130.68 L72.07,131.20 L72.20,131.71 L72.33,132.23 L72.46,132.75 L72.59,133.26 L72.72,133.78 L72.85,134.30 L72.98,134.81 L73.11,135.33 L73.24,135.84 L73.37,136.36 L73.50,136.88 L73.63,137.39 L73.76,137.91 L73.88,138.43 L74.01,138.94 L74.14,139.46 L74.27,139.98 L74.40,140.49 L74.53,141.01 L74.66,141.53 L74.79,142.04 L74.92,142.56 L75.05,143.08 L75.18,143.60 L75.30,144.11 L75.43,144.63 L75.56,145.15 L75.69,145.66 L75.82,146.18 L75.95,146.70 L76.08,147.22 L76.21,147.73 L76.34,148.25 L76.47,148.77 L76.60,149.29 L76.73,149.81 L76.85,150.32 L76.98,150.84 L77.11,151.36 L77.24,151.88 L77.37,152.39 L77.50,152.91 L77.63,153.43 L77.76,153.95 L77.89,154.47 L78.02,154.99 L78.15,155.50 L78.28,156.02 L78.41,156.54 L78.54,157.06 L78.67,157.58 L78.80,158.10 L78.93,158.61 L79.06,159.13 L79.19,159.65 L79.32,160.17 L79.45,160.69 L79.58,161.21 L79.71,161.73 L79.84,162.25 L79.97,162.76 L80.10,163.28 L80.23,163.80 L80.36,164.32 L80.49,164.84 L80.62,165.36 L80.75,165.88 L80.89,166.40 L81.02,166.92 L81.15,167.43 L81.28,167.95 L81.41,168.47 L81.55,168.99 L81.68,169.51 L81.81,170.03 L81.95,170.54 L82.08,171.06 L82.21,171.58 L82.35,172.10 L82.48,172.61 L82.62,173.13 L82.75,173.65 L82.89,174.16 L83.03,174.68 L83.16,175.20 L83.30,175.71 L83.44,176.23 L83.57,176.74 L83.71,177.26 L83.85,177.77 L83.99,178.29 L84.13,178.80 L84.27,179.31 L84.41,179.83 L84.55,180.34 L84.69,180.85 L84.84,181.37 L84.98,181.88 L85.12,182.39 L85.27,182.90 L85.41,183.41 L85.56,183.92 L85.70,184.43 L85.85,184.94 L86.00,185.45 L86.14,185.96 L86.29,186.47 L86.44,186.98 L86.59,187.48 L86.74,187.99 L86.89,188.50 L87.04,189.00 L87.20,189.51 L87.35,190.01 L87.50,190.52 L87.66,191.02 L87.81,191.52 L87.97,192.02 L88.13,192.53 L88.28,193.03 L88.44,193.53 L88.60,194.03 L88.76,194.53 L88.92,195.03 L89.09,195.52 L89.25,196.02 L89.41,196.52 L89.58,197.01 L89.74,197.51 L89.91,198.00 L90.08,198.50 L90.25,198.99 L90.42,199.49 L90.59,199.98 L90.77,200.47 L90.94,200.96 L91.12,201.45 L91.30,201.94 L91.48,202.44 L91.66,202.93 L91.84,203.42 L92.03,203.91 L92.21,204.39 L92.40,204.88 L92.59,205.37 L92.78,205.86 L92.98,206.35 L93.17,206.84 L93.37,207.32 L93.57,207.81 L93.78,208.30 L93.98,208.79 L94.19,209.27 L94.40,209.76 L94.61,210.25 L94.83,210.73 L95.05,211.22 L95.27,211.71 L95.49,212.19 L95.71,212.68 L95.94,213.17 L96.17,213.65 L96.41,214.14 L96.64,214.63 L96.88,215.11 L97.13,215.60 L97.37,216.09 L97.62,216.57 L97.87,217.06 L98.13,217.55 L98.39,218.04 L98.65,218.52 L98.91,219.01 L99.18,219.50 L99.45,219.99 L99.73,220.48 L100.01,220.96 L100.29,221.45 L100.58,221.94 L100.87,222.42 L101.17,222.90 L101.47,223.37 L101.77,223.84 L102.09,224.30 L102.40,224.76 L102.72,225.21 L103.05,225.65 L103.39,226.09 L103.73,226.51 L104.07,226.93 L104.43,227.33 L104.79,227.72 L105.15,228.10 L105.53,228.47 L105.91,228.82 L106.30,229.16 L106.70,229.49 L107.10,229.79 L107.52,230.09 L107.94,230.36 L108.37,230.62 L108.81,230.85 L109.26,231.07 L109.71,231.27 L110.18,231.44 L110.66,231.60 L111.14,231.73 L111.64,231.85 L112.14,231.94 L112.65,232.02 L113.16,232.09 L113.68,232.13 L114.20,232.17 L114.73,232.19 L115.26,232.19 L115.80,232.19 L116.34,232.17 L116.87,232.15 L117.41,232.12 L117.95,232.08 L118.49,232.03 L119.03,231.98 L119.56,231.92 L120.10,231.86 L120.63,231.79 L121.16,231.72 L121.70,231.64 L122.22,231.56 L122.75,231.47 L123.28,231.38 L123.81,231.29 L124.33,231.19 L124.85,231.08 L125.38,230.98 L125.90,230.86 L126.42,230.75 L126.94,230.63 L127.45,230.51 L127.97,230.38 L128.49,230.25 L129.00,230.12 L129.52,229.99 L130.03,229.85 L130.54,229.71 L131.05,229.56 L131.57,229.41 L132.08,229.27 L132.59,229.11 L133.09,228.96 L133.60,228.80 L134.11,228.64 L134.62,228.48 L135.12,228.32 L135.63,228.15 L136.14,227.99 L136.64,227.82 L137.15,227.65 L137.65,227.48 L138.15,227.31 L138.66,227.13 L139.16,226.96 L139.66,226.78 L140.17,226.60 L140.67,226.43 L141.17,226.25 L141.67,226.07 L142.18,225.89 L142.68,225.71 L143.18,225.53 L143.68,225.35 L144.18,225.17 L144.69,224.99 L145.19,224.81 L145.69,224.63 L146.19,224.45 L146.69,224.27 L147.20,224.09 L147.70,223.91 L148.20,223.74 L148.70,223.56 L149.21,223.38 L149.71,223.20 L150.21,223.03 L150.72,222.85 L151.22,222.68 L151.72,222.50 L152.23,222.33 L152.73,222.15 L153.23,221.98 L153.74,221.80 L154.24,221.63 L154.75,221.46 L155.25,221.29 L155.75,221.12 L156.26,220.94 L156.76,220.77 L157.27,220.60 L157.77,220.43 L158.28,220.26 L158.78,220.09 L159.29,219.92 L159.79,219.75 L160.30,219.59 L160.80,219.42 L161.31,219.25 L161.82,219.08 L162.32,218.92 L162.83,218.75 L163.33,218.59 L163.84,218.42 L164.35,218.26 L164.85,218.09 L165.36,217.93 L165.87,217.76 L166.37,217.60 L166.88,217.44 L167.39,217.27 L167.89,217.11 L168.40,216.95 L168.91,216.79 L169.42,216.63 L169.92,216.47 L170.43,216.31 L170.94,216.15 L171.45,215.99 L171.95,215.83 L172.46,215.67 L172.97,215.51 L173.48,215.35 L173.99,215.20 L174.50,215.04 L175.00,214.88 L175.51,214.73 L176.02,214.57 L176.53,214.42 L177.04,214.26 L177.55,214.11 L178.06,213.95 L178.57,213.80 L179.08,213.64 L179.59,213.49 L180.10,213.34 L180.61,213.19 L181.12,213.03 L181.63,212.88 L182.14,212.73 L182.65,212.58 L183.16,212.43 L183.67,212.28 L184.18,212.13 L184.69,211.98 L185.20,211.83 L185.71,211.69 L186.22,211.54 L186.73,211.39 L187.25,211.24 L187.76,211.10 L188.27,210.95 L188.78,210.80 L189.29,210.66 L189.80,210.51 L190.31,210.37 L190.83,210.22 L191.34,210.08 L191.85,209.94 L192.36,209.79 L192.88,209.65 L193.39,209.51 L193.90,209.37 L194.41,209.22 L194.93,209.08 L195.44,208.94 L195.95,208.80 L196.46,208.66 L196.98,208.52 L197.49,208.38 L198.00,208.24 L198.52,208.10 L199.03,207.97 L199.54,207.83 L200.06,207.69 L200.57,207.55 L201.09,207.42 L201.60,207.28 L202.11,207.14 L202.63,207.01 L203.14,206.87 L203.66,206.74 L204.17,206.60 L204.69,206.47 L205.20,206.34 L205.72,206.20 L206.23,206.07 L206.75,205.94 L207.26,205.81 L207.78,205.68 L208.29,205.54 L208.81,205.41 L209.32,205.28 L209.84,205.15 L210.35,205.02 L210.87,204.89 L211.38,204.76 L211.90,204.64 L212.42,204.51 L212.93,204.38 L213.45,204.25 L213.97,204.13 L214.48,204.00 L215.00,203.87 L215.51,203.75 L216.03,203.62 L216.55,203.50 L217.06,203.37 L217.58,203.25 L218.10,203.12 L218.62,203.00 L219.13,202.88 L219.65,202.75 L220.17,202.63 L220.68,202.51 L221.20,202.39 L221.72,202.26 L222.24,202.14 L222.76,202.02 L223.27,201.90 L223.79,201.78 L224.31,201.66 L224.83,201.54 L225.35,201.43 L225.86,201.31 L226.38,201.19 L226.90,201.07 L227.42,200.95 L227.94,200.84 L228.46,200.72 L228.98,200.60 L229.49,200.49 L230.01,200.37 L230.53,200.26 L231.05,200.14 L231.57,200.03 L232.09,199.92 L232.61,199.80 L233.13,199.69 L233.65,199.58 L234.17,199.46 L234.69,199.35 L235.21,199.24 L235.73,199.13 L236.25,199.02 L236.77,198.91 L237.29,198.80 L237.81,198.69 L238.33,198.58 L238.85,198.47 L239.37,198.36 L239.89,198.25 L240.41,198.14 L240.93,198.04 L241.45,197.93 L241.97,197.82 L242.49,197.72 L243.01,197.61 L243.53,197.50 L244.06,197.40 L244.58,197.29 L245.10,197.19 L245.62,197.08 L246.14,196.98 L246.66,196.88 L247.18,196.77 L247.71,196.67 L248.23,196.57 L248.75,196.47 L249.27,196.36 L249.79,196.26 L250.31,196.16 L250.84,196.06 L251.36,195.96 L251.88,195.86 L252.40,195.76 L252.93,195.66 L253.45,195.56 L253.97,195.47 L254.49,195.37 L255.02,195.27 L255.54,195.17 L256.06,195.07 L256.58,194.98 L257.11,194.88 L257.63,194.79 L258.15,194.69 L258.68,194.60 L259.20,194.50 L259.72,194.41 L260.25,194.31 L260.77,194.22 L261.29,194.13 L261.82,194.03 L262.34,193.94 L262.86,193.85 L263.39,193.76 L263.91,193.66 L264.44,193.57 L264.96,193.48 L265.48,193.39 L266.01,193.30 L266.53,193.21 L267.06,193.12 L267.58,193.03 L268.11,192.94 L268.63,192.86 L269.15,192.77 L269.68,192.68 L270.20,192.59 L270.73,192.51 L271.25,192.42 L271.78,192.33 L272.30,192.25 L272.83,192.16 L273.35,192.08 L273.88,191.99 L274.40,191.91 L274.93,191.82 L275.45,191.74 L275.98,191.66 L276.50,191.57 L277.03,191.49 L277.56,191.41 L278.08,191.33 L278.61,191.25 L279.13,191.16 L279.66,191.08 L280.18,191.00 L280.71,190.92 L281.24,190.84 L281.76,190.76 L282.29,190.68 L282.81,190.61 L283.34,190.53 L283.87,190.45 L284.39,190.37 L284.92,190.29 L285.45,190.22 L285.97,190.14 L286.50,190.06 L287.03,189.99 L287.55,189.91 L288.08,189.84 L288.61,189.76 L289.13,189.69 L289.66,189.61 L290.19,189.54 L290.71,189.47 L291.24,189.39 L291.77,189.32 L292.29,189.25 L292.82,189.18 L293.35,189.10 L293.88,189.03 L294.40,188.96 L294.93,188.89 L295.46,188.82 L295.99,188.75 L296.51,188.68 L297.04,188.61 L297.57,188.54 L298.10,188.47 L298.62,188.41 L299.15,188.34 L299.68,188.27 L300.21,188.20 L300.74,188.14 L301.26,188.07 L301.79,188.00 L302.32,187.94 L302.85,187.87 L303.38,187.81 L303.91,187.74 L304.43,187.68 L304.96,187.61 L305.49,187.55 L306.02,187.49 L306.55,187.42 L307.08,187.36 L307.61,187.30 L308.13,187.23 L308.66,187.17 L309.19,187.11 L309.72,187.05 L310.25,186.99 L310.78,186.93 L311.31,186.87 L311.84,186.81 L312.36,186.75 L312.89,186.69 L313.42,186.63 L313.95,186.57 L314.48,186.52 L315.01,186.46 L315.54,186.40 L316.07,186.34 L316.60,186.29 L317.13,186.23 L317.66,186.17 L318.19,186.12 L318.72,186.06 L319.25,186.01 L319.78,185.95 L320.31,185.90 L320.84,185.85 L321.37,185.79 L321.90,185.74 L322.43,185.69 L322.96,185.63 L323.49,185.58 L324.02,185.53 L324.55,185.48 L325.08,185.43 L325.61,185.38 L326.14,185.32 L326.67,185.27 L327.20,185.22 L327.73,185.17 L328.26,185.13 L328.79,185.08 L329.32,185.03 L329.85,184.98 L330.38,184.93 L330.91,184.88 L331.44,184.84 L331.97,184.79 L332.50,184.74 L333.03,184.70 L333.56,184.65 L334.09,184.60 L334.62,184.56 L335.15,184.51 L335.69,184.47 L336.22,184.43 L336.75,184.38 L337.28,184.34 L337.81,184.29 L338.34,184.25 L338.87,184.21 L339.40,184.17 L339.93,184.12 L340.46,184.08 L341.00,184.04 L341.53,184.00 L342.06,183.96 L342.59,183.92 L343.12,183.88 L343.65,183.84 L344.18,183.80 L344.71,183.76 L345.25,183.72 L345.78,183.68 L346.31,183.65 L346.84,183.61 L347.37,183.57 L347.90,183.53 L348.44,183.50 L348.97,183.46 L349.50,183.42 L350.03,183.39 L350.56,183.35 L351.09,183.32 L351.63,183.28 L352.16,183.25 L352.69,183.21 L353.22,183.18 L353.75,183.15 L354.28,183.11 L354.82,183.08 L355.35,183.05 L355.88,183.02 L356.41,182.98 L356.94,182.95 L357.48,182.92 L358.01,182.89 L358.54,182.86 L359.07,182.83 L359.61,182.80 L360.14,182.77 L360.67,182.74 L361.20,182.71" stroke="#000" stroke-width="1.9"/>
</g>
<g fill="none" stroke-width="1.9">
<path d="M177.9,89.4 H216.2" stroke="#0000ff" stroke-dasharray="2.4 2.3 6.9 2.2"/>
<path d="M177.9,109.2 H216.9" stroke="#ff0000" stroke-dasharray="6 2.1"/>
<path d="M177.9,128.85 H219.3" stroke="#000"/>
</g>
<g class="lg">
<text x="225" y="93">L=0<tspan dx="0.4">,</tspan><tspan font-style="italic" font-size="10.8">ω</tspan><tspan font-size="5.8" dy="1.2" dx="0.2" font-style="italic">i</tspan><tspan dy="-1.2" dx="0">=0.2209−0.2098 </tspan><tspan font-style="italic" font-weight="bold" dx="0.3">i</tspan></text>
<text x="225" y="112.8">L=1<tspan dx="0.4">,</tspan><tspan font-style="italic" font-size="10.8">ω</tspan><tspan font-size="5.8" dy="1.2" dx="0.2" font-style="italic">i</tspan><tspan dy="-1.2" dx="0">=0.5859−0.1953 </tspan><tspan font-style="italic" font-weight="bold" dx="0.3">i</tspan></text>
<text x="225" y="132.5">L=2<tspan dx="0.4">,</tspan><tspan font-style="italic" font-size="10.8">ω</tspan><tspan font-size="5.8" dy="1.2" dx="0.2" font-style="italic">i</tspan><tspan dy="-1.2" dx="0">=0.9673−0.1935 </tspan><tspan font-style="italic" font-weight="bold" dx="0.3">i</tspan></text>
</g>
<g class="lg">
<g class="tt">
<text y="7.35"><tspan x="8.75">Im (</tspan></text>
<text transform="translate(23.85,7.35) scale(1.12,1)" style="font-style:italic">ω</text>
<text x="31.8" y="7.35">)</text>
<text y="27.3"><tspan x="7.55">Im (</tspan></text>
<text transform="translate(22.65,27.3) scale(1.05,1)" style="font-style:italic">ω</text>
<text class="sub" x="29.5" y="28.9" style="font-style:italic">i</text>
<text x="32.4" y="27.3">)</text>
</g>
<line x1="7.1" y1="14.5" x2="36.7" y2="14.5" stroke="#333" stroke-width="1"/>
</g>
</svg>
</body></html>
